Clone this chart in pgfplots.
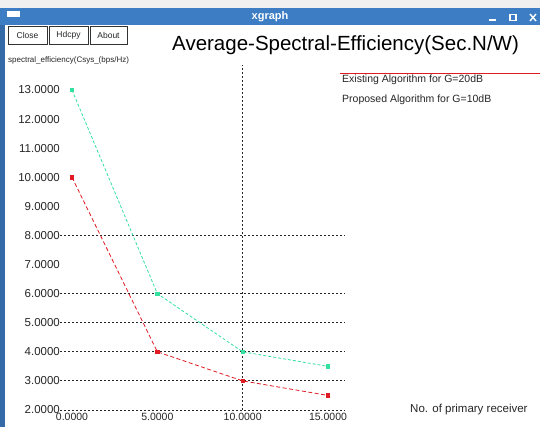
\documentclass[border=0pt]{standalone}
\usepackage{fontspec}
\setmainfont{Liberation Sans}
\usepackage{pgfplots}
\pgfplotsset{compat=1.18}
\definecolor{barblue}{HTML}{3C7DC4}
\definecolor{pgreen}{HTML}{33E0A0}
\definecolor{ered}{HTML}{E01B24}
\begin{document}
\begin{tikzpicture}[x=1pt,y=1pt]
\path[use as bounding box, fill=white] (0,0) rectangle (540,427);
\fill[gray!12] (0,419) rectangle (540,427);
\fill[barblue] (0,402) rectangle (540,419);
\node[text=white, font=\bfseries\fontsize{11}{12}\selectfont] at (270,410.5) {xgraph};
\fill[white] (7,410) rectangle (20,416);
\draw[white, line width=1.2pt] (489,407) -- (496,407);
\draw[white, line width=1.2pt] (510,406.5) rectangle (516,412.5);
\draw[white, line width=1.4pt] (530,406) -- (536,413) (530,413) -- (536,406);
\fill[barblue!85!black] (0,0) rectangle (5,402);
% buttons
\draw[black!80, line width=0.5pt] (8,383) rectangle (47,401);
\draw[black!80, line width=0.5pt] (49,383) rectangle (88,401);
\draw[black!80, line width=0.5pt] (90,383) rectangle (127,401);
\node[font=\fontsize{8.5}{10}\selectfont, text=black!85] at (27.5,392) {Close};
\node[font=\fontsize{8.5}{10}\selectfont, text=black!85] at (68.5,392) {Hdcpy};
\node[font=\fontsize{8.5}{10}\selectfont, text=black!85] at (108.5,392) {About};
% title
\node[anchor=west, font=\fontsize{20.5}{22}\selectfont, inner sep=0pt] at (172,382) {Average-Spectral-Efficiency(Sec.N/W)};
\node[anchor=west, font=\fontsize{8}{9}\selectfont, inner sep=0pt, text=black!85] at (8,367) {spectral\_efficiency(Csys\_(bps/Hz)};
\begin{axis}[
  at={(60.05pt,17pt)}, anchor=south west,
  scale only axis, width=285pt, height=345pt,
  xmin=-0.7, xmax=16, ymin=2, ymax=13.86,
  axis line style={draw=none}, tick style={draw=none},
  clip=false,
  xtick={0,5,10,15},
  xticklabels={0.0000,5.0000,10.0000,15.0000},
  ytick={2,3,4,5,6,7,8,9,10,11,12,13},
  /pgf/number format/fixed, /pgf/number format/fixed zerofill,
  /pgf/number format/precision=4, /pgf/number format/assume math mode=true,
  yticklabel style={font=\fontsize{11.5}{13}\selectfont, inner sep=0pt, text=black!85},
  xticklabel style={font=\fontsize{10.5}{12}\selectfont, inner sep=0pt, yshift=-3pt, text=black!85},
  extra y ticks={2,3,4,5,6,8},
  extra y tick labels={},
  extra y tick style={grid=major, major grid style={black!85, dash pattern=on 2pt off 2pt, line width=0.9pt}},
  extra x ticks={10},
  extra x tick labels={},
  extra x tick style={grid=major, major grid style={black!85, dash pattern=on 2pt off 2pt, line width=0.9pt}},
]
\addplot[color=pgreen, line width=0.8pt, dash pattern=on 3pt off 2pt, mark=square*, mark size=1.7pt, mark options={solid}]
coordinates {(0,13) (5,6) (10,4) (15,3.5)};
\addplot[color=ered, line width=0.8pt, dash pattern=on 4pt off 2.5pt, mark=square*, mark size=1.7pt, mark options={solid}]
coordinates {(0,10) (5,4) (10,3) (15,2.5)};
\end{axis}
% legend
\draw[ered, line width=0.8pt] (340,354) -- (540,354);
\node[anchor=west, inner sep=0pt, font=\fontsize{10.5}{12}\selectfont, text=black!85] at (342,347) {Existing Algorithm for G=20dB};
\node[anchor=west, inner sep=0pt, font=\fontsize{10.5}{12}\selectfont, text=black!85] at (342,327) {Proposed Algorithm for G=10dB};
\node[anchor=west, inner sep=0pt, font=\fontsize{11.5}{13}\selectfont, text=black!85] at (410,17) {No. of primary receiver};
\end{tikzpicture}
\end{document}
